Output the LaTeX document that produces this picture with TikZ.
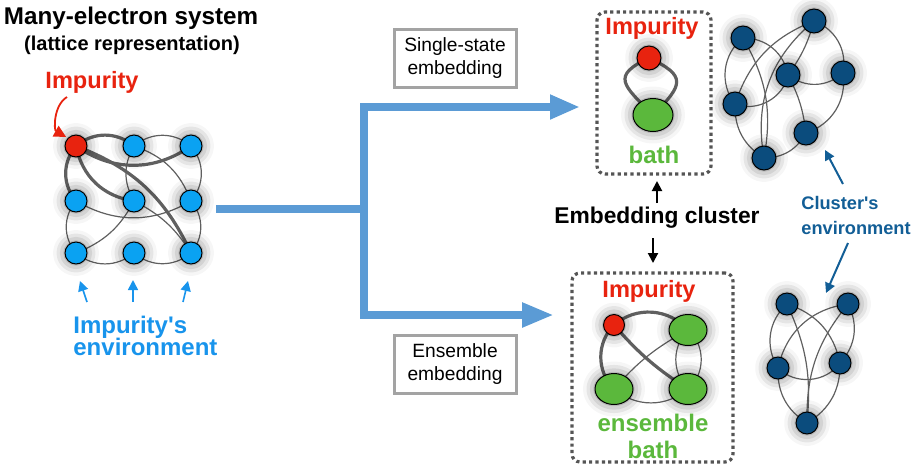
\documentclass[tikz,border=0pt]{standalone}
\usepackage{fontspec}
\setmainfont{Liberation Sans}
\usetikzlibrary{arrows.meta, shapes.geometric, shadows.blur}

\definecolor{impred}{HTML}{E8230F}
\definecolor{latblue}{HTML}{0AA2F2}
\definecolor{envblue}{HTML}{1894EC}
\definecolor{flowblue}{HTML}{5B9BD5}
\definecolor{bathgreen}{HTML}{5BB83C}
\definecolor{cludark}{HTML}{0B4C7D}
\definecolor{clutext}{HTML}{125E96}
\definecolor{bondgray}{HTML}{606060}
\definecolor{boxgray}{HTML}{A3A3A3}
\definecolor{dotgray}{HTML}{555555}

\begin{document}
\begin{tikzpicture}[x=0.5pt, y=-0.5pt,
    glow/.style={blur shadow={shadow xshift=0pt, shadow yshift=0pt, shadow blur radius=6pt, shadow opacity=55}},
    site/.style={circle, draw=black, line width=0.5pt, minimum size=11pt, inner sep=0pt, glow},
    bathsite/.style={ellipse, draw=black, line width=0.5pt, fill=bathgreen, inner sep=0pt, glow},
    bond/.style={draw=bondgray, line width=0.6pt},
    strong/.style={draw=bondgray, line width=1.6pt},
    flow/.style={draw=flowblue, line width=4pt},
    methodbox/.style={draw=boxgray, line width=1.5pt, minimum width=61pt, minimum height=29pt, align=center, font=\fontsize{9.6}{11.5}\selectfont},
    dotbox/.style={draw=dotgray, line width=1.6pt, dash pattern=on 1.6pt off 1.6pt, rounded corners=4pt},
    imptext/.style={text=impred, font=\bfseries\fontsize{11.8}{14}\selectfont},
    bathtext/.style={text=bathgreen, font=\bfseries\fontsize{12}{13.5}\selectfont, align=center},
    tick/.style={-{Triangle[length=5pt, width=5pt]}, line width=1pt}
]
    \useasboundingbox (0,0) rectangle (916,472);

    % headings
    \node[font=\bfseries\fontsize{12.1}{14}\selectfont] (title) at (131,18) {Many-electron system};
    \node[font=\bfseries\fontsize{10}{12}\selectfont] (subtitle) at (132,45) {(lattice representation)};

    % lattice: positions, bonds, then sites on top
    \foreach \r/\y in {1/146,2/201,3/253} {
        \foreach \c/\x in {1/76,2/134,3/191} {
            \coordinate (a\r\c) at (\x,\y);
        }
    }
    \draw[strong] (a11) to[bend left=40] (a12);
    \draw[strong] (a11) to[bend right=35] (a13);
    \draw[strong] (a11) to[bend right=35] (a22);
    \draw[strong] (a11) to[bend right=40] (a21);
    \draw[strong] (a11) to[bend left=22] (a33);
    \draw[bond] (a12) to[bend left=40] (a13);
    \draw[bond] (a12) to[bend left=25] (a23);
    \draw[bond] (a12) to[bend right=30] (a22);
    \draw[bond] (a13) to[bend left=40] (a23);
    \draw[bond] (a23) to[bend left=40] (a33);
    \draw[bond] (a21) to[bend right=40] (a31);
    \draw[bond] (a31) to[bend right=40] (a32);
    \draw[bond] (a32) to[bend right=40] (a33);
    \draw[bond] (a21) to[bend right=30] (a23);
    \draw[bond] (a31) to[bend right=20] (a22);
    \draw[bond] (a22) to[bend left=15] (a33);
    \foreach \s in {a12,a13,a21,a22,a23,a31,a32,a33} {
        \node[site, fill=latblue] (\s) at (\s) {};
    }
    \node[site, fill=impred] (imp) at (a11) {};

    \node[imptext] (implabel) at (92,82) {Impurity};
    \coordinate (redtail) at (67,97);
    \draw[-{Triangle[length=6pt, width=6pt]}, impred, line width=0.9pt, shorten >=1pt] (redtail) to[bend right=60] (imp.north west);

    \node[anchor=west, inner sep=0pt, align=left, text=envblue, font=\bfseries\fontsize{12}{11.2}\selectfont] (envlabel) at (73,336) {Impurity\textquotesingle s\\environment};
    \coordinate (e1s) at (87,302); \coordinate (e1t) at (80,281);
    \coordinate (e2s) at (133,302); \coordinate (e2t) at (133,280);
    \coordinate (e3s) at (183,302); \coordinate (e3t) at (188,281);
    \draw[tick, envblue, line width=0.8pt] (e1s) -- (e1t);
    \draw[tick, envblue, line width=0.8pt] (e2s) -- (e2t);
    \draw[tick, envblue, line width=0.8pt] (e3s) -- (e3t);

    % branching arrows
    \coordinate (stem) at (216,209);
    \coordinate (fork) at (364,209);
    \coordinate (toptip) at (580,107);
    \coordinate (bottip) at (554,315);
    \draw[flow] (stem) -- (fork);
    \draw[flow, {Triangle[length=15pt, width=11.5pt]}-{Triangle[length=16pt, width=11.5pt]}] (toptip) -| (fork) |- (bottip);

    \node[methodbox] (single) at (455,58) {Single-state\\embedding};
    \node[methodbox] (ensemble) at (455,364) {Ensemble\\embedding};

    % single-state cluster
    \node[dotbox, minimum width=57pt, minimum height=81pt] (topbox) at (654,93) {};
    \node[imptext] (topimp) at (652,28) {Impurity};
    \coordinate (ti) at (649,58);
    \coordinate (tb) at (653,115);
    \draw[strong] (ti) to[out=205, in=135, looseness=1.9] (tb);
    \draw[strong] (ti) to[out=-25, in=45, looseness=1.9] (tb);
    \node[site, fill=impred, minimum size=12pt] (timp) at (ti) {};
    \node[bathsite, minimum width=20pt, minimum height=16.5pt] (tbath) at (tb) {};
    \node[bathtext] (topbath) at (654,155) {bath};

    % embedding cluster label
    \node[font=\bfseries\fontsize{11.4}{13}\selectfont] (embed) at (657,218) {Embedding cluster};
    \coordinate (ups) at (657,203); \coordinate (upt) at (657,181);
    \coordinate (dns) at (653,238); \coordinate (dnt) at (653,263);
    \draw[tick] (ups) -- (upt);
    \draw[tick] (dns) -- (dnt);

    % ensemble cluster
    \node[dotbox, minimum width=80.5pt, minimum height=94.5pt] (botbox) at (652.5,367.5) {};
    \node[imptext] (botimp) at (649,291) {Impurity};
    \coordinate (bi) at (614,325);
    \coordinate (btr) at (688,330);
    \coordinate (bbl) at (614,389);
    \coordinate (bbr) at (688,389);
    \draw[strong] (bi) to[bend left=45] (btr);
    \draw[strong] (bi) to[bend right=45] (bbl);
    \draw[strong] (bi) to[bend right=8] (bbr);
    \draw[bond] (bbl) to[bend left=10] (btr);
    \draw[bond] (bbl) to[bend right=40] (bbr);
    \draw[bond] (btr) to[bend left=50] (bbr);
    \draw[bond] (btr) to[bend right=45] (bbr);
    \node[site, fill=impred, minimum size=10.5pt] (bimp) at (bi) {};
    \foreach \s in {btr,bbl,bbr} {
        \node[bathsite, minimum width=19pt, minimum height=15.5pt] (\s) at (\s) {};
    }
    \node[bathtext] (botbath) at (653,436) {ensemble\\bath};

    % cluster's environment (top)
    \coordinate (ca) at (743,38);
    \coordinate (cb) at (814,21);
    \coordinate (cc) at (788,75);
    \coordinate (cd) at (843,73);
    \coordinate (ce) at (735,104);
    \coordinate (cf) at (806,133);
    \coordinate (cg) at (764,158);
    \draw[bond] (ca) to[bend left=40] (cc);
    \draw[bond] (ca) to[bend right=45] (ce);
    \draw[bond] (ca) to[bend left=20] (cg);
    \draw[bond] (cb) to[bend right=25] (ce);
    \draw[bond] (cb) to[bend right=30] (cg);
    \draw[bond] (cb) to[bend left=10] (cc);
    \draw[bond] (cb) to[bend left=40] (cd);
    \draw[bond] (cc) to[bend right=40] (cd);
    \draw[bond] (cc) to[bend left=50] (ce);
    \draw[bond] (cc) to[bend left=10] (cf);
    \draw[bond] (cd) to[bend left=40] (cf);
    \draw[bond] (ce) to[bend right=30] (cg);
    \draw[bond] (cg) to[bend right=30] (cf);
    \foreach \s in {ca,cb,cc,cd,ce,cf,cg} {
        \node[site, fill=cludark, minimum size=12pt] (\s) at (\s) {};
    }

    % cluster's environment (bottom)
    \coordinate (p1) at (787,304);
    \coordinate (p2) at (848,304);
    \coordinate (p3) at (778,368);
    \coordinate (p4) at (840,363);
    \coordinate (p5) at (807,423);
    \draw[bond] (p1) to[bend right=40] (p3);
    \draw[bond] (p1) to[bend left=30] (p4);
    \draw[bond] (p2) to[bend right=35] (p3);
    \draw[bond] (p2) to[bend left=35] (p4);
    \draw[bond] (p3) to[bend right=50] (p4);
    \draw[bond] (p3) to[bend right=30] (p5);
    \draw[bond] (p4) to[bend left=30] (p5);
    \draw[bond] (p5) to[bend left=20] (p2);
    \draw[bond] (p5) to[bend right=15] (p1);
    \foreach \s in {p1,p2,p3,p4,p5} {
        \node[site, fill=cludark] (\s) at (\s) {};
    }

    \node[anchor=west, inner sep=0pt, align=left, text=clutext, font=\bfseries\fontsize{9.1}{12.5}\selectfont] (clulabel) at (801,215) {Cluster\textquotesingle s\\environment};
    \coordinate (c1s) at (843,184); \coordinate (c1t) at (825,150);
    \coordinate (c2s) at (848,243); \coordinate (c2t) at (826,293);
    \draw[tick, clutext] (c1s) -- (c1t);
    \draw[tick, clutext] (c2s) -- (c2t);
\end{tikzpicture}
\end{document}
